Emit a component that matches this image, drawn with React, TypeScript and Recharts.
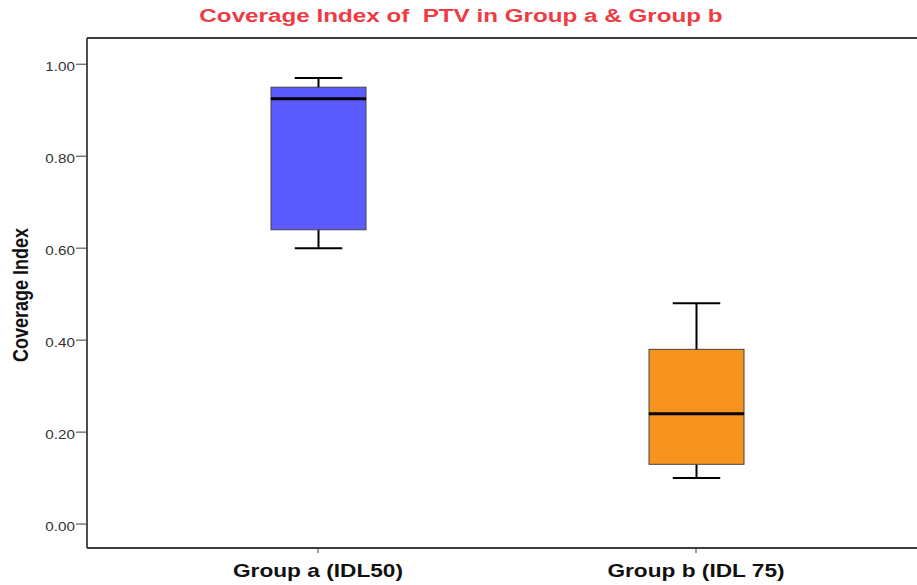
import { BarChart, Bar, XAxis, YAxis, ReferenceLine } from 'recharts';

const groups = ['Group a (IDL50)', 'Group b (IDL 75)'];
const minVals = [0.6, 0.1];
const q1Vals = [0.64, 0.13];
const medianVals = [0.925, 0.24];
const q3Vals = [0.95, 0.38];
const maxVals = [0.97, 0.48];
const boxColors = ['#5B5BFF', '#F7941E'];
const yTicks = [0, 0.2, 0.4, 0.6, 0.8, 1.0];

const FONT = '"Liberation Sans", Arial, sans-serif';
const FRAME = '#3c3c3c';

// stacked segments: invisible base, lower whisker, lower box, upper box, upper whisker
const data = groups.map((name, i) => ({
    name,
    base: minVals[i],
    lowWhisker: q1Vals[i] - minVals[i],
    lowBox: medianVals[i] - q1Vals[i],
    highBox: q3Vals[i] - medianVals[i],
    highWhisker: maxVals[i] - q3Vals[i],
    color: boxColors[i]
}));

const LowWhisker = (props: any) => {
    const { x, y, width, height } = props;
    const cx = x + width / 2;
    return (
        <g>
            <line x1={cx} x2={cx} y1={y} y2={y + height} stroke="#000" strokeWidth={2} />
            <line x1={cx - width / 4} x2={cx + width / 4} y1={y + height} y2={y + height} stroke="#000" strokeWidth={2} />
        </g>
    );
};

const HighWhisker = (props: any) => {
    const { x, y, width, height } = props;
    const cx = x + width / 2;
    return (
        <g>
            <line x1={cx} x2={cx} y1={y} y2={y + height} stroke="#000" strokeWidth={2} />
            <line x1={cx - width / 4} x2={cx + width / 4} y1={y} y2={y} stroke="#000" strokeWidth={2} />
        </g>
    );
};

const LowBox = (props: any) => {
    const { x, y, width, height, payload } = props;
    return <rect x={x} y={y} width={width} height={height} fill={payload.color} stroke="#444" strokeWidth={1} />;
};

const HighBox = (props: any) => {
    const { x, y, width, height, payload } = props;
    return (
        <g>
            <rect x={x} y={y} width={width} height={height} fill={payload.color} stroke="#444" strokeWidth={1} />
            <line x1={x} x2={x + width} y1={y + height} y2={y + height} stroke="#000" strokeWidth={3} />
        </g>
    );
};

// the source picture is a bit stretched sideways, so the texts are widened
const XTick = (props: any) => {
    const { x, y, payload } = props;
    return (
        <text
            transform={`translate(${x},${y + 20}) scale(1.26,1)`}
            textAnchor="middle"
            fontSize={18}
            fontWeight={700}
            fill="#111"
            fontFamily={FONT}
        >
            {payload.value}
        </text>
    );
};

const YTick = (props: any) => {
    const { x, y, payload } = props;
    return (
        <text
            transform={`translate(${x},${y + 6.5}) scale(1.22,1)`}
            textAnchor="end"
            fontSize={12.5}
            fill="#333"
            fontFamily={FONT}
        >
            {Number(payload.value).toFixed(2)}
        </text>
    );
};

const YLabel = (props: any) => {
    const { viewBox } = props;
    const cy = viewBox.y + viewBox.height / 2 + 2;
    return (
        <text
            transform={`translate(20,${cy}) scale(1.22,1) rotate(-90)`}
            textAnchor="middle"
            dominantBaseline="central"
            fontSize={18}
            fontWeight={700}
            fill="#111"
            fontFamily={FONT}
        >
            Coverage Index
        </text>
    );
};

export default function App() {
    return (
        <div style={{ position: 'fixed', left: 0, top: 0, width: 917, height: 585, overflow: 'hidden', background: '#fff' }}>
            <div
                style={{
                    position: 'absolute',
                    top: 6,
                    left: 0,
                    width: 922,
                    textAlign: 'center',
                    whiteSpace: 'pre',
                    color: '#EE3B44',
                    fontFamily: FONT,
                    fontWeight: 700,
                    fontSize: 18,
                    transform: 'scaleX(1.345)',
                    transformOrigin: '461px 0'
                }}
            >
                {'Coverage Index of  PTV in Group a & Group b'}
            </div>
            <BarChart
                width={940}
                height={585}
                data={data}
                margin={{ top: 38, right: 13, left: 0, bottom: 0 }}
                barSize={95}
            >
                <XAxis
                    dataKey="name"
                    height={37}
                    padding={{ left: 42, right: 42 }}
                    axisLine={{ stroke: FRAME, strokeWidth: 1.8 }}
                    tickLine={{ stroke: FRAME }}
                    tickSize={5}
                    tickMargin={4}
                    tick={<XTick />}
                />
                <YAxis
                    width={87}
                    domain={[-0.052, 1.057]}
                    ticks={yTicks}
                    axisLine={{ stroke: FRAME, strokeWidth: 1.8 }}
                    tickLine={{ stroke: FRAME }}
                    tickSize={11}
                    tickMargin={1}
                    tick={<YTick />}
                    allowDataOverflow
                    label={{ content: <YLabel /> }}
                />
                <ReferenceLine y={1.057} stroke={FRAME} strokeWidth={1.8} ifOverflow="extendDomain" />
                <Bar dataKey="base" stackId="box" fill="transparent" isAnimationActive={false} />
                <Bar dataKey="lowWhisker" stackId="box" shape={LowWhisker} isAnimationActive={false} />
                <Bar dataKey="lowBox" stackId="box" shape={LowBox} isAnimationActive={false} />
                <Bar dataKey="highBox" stackId="box" shape={HighBox} isAnimationActive={false} />
                <Bar dataKey="highWhisker" stackId="box" shape={HighWhisker} isAnimationActive={false} />
            </BarChart>
        </div>
    );
}
